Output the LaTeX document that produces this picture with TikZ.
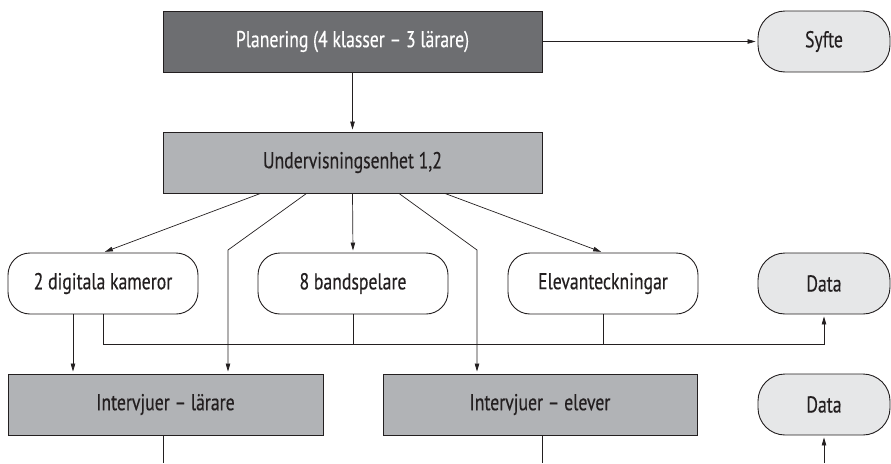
\documentclass[tikz,border=0pt]{standalone}
\usepackage{fontspec}
\setmainfont{PT Sans}[FakeStretch=0.77,FakeBold=0.35]
\usetikzlibrary{arrows.meta,calc}
\definecolor{ink}{HTML}{231F20}
\definecolor{darkfill}{HTML}{6D6E71}
\definecolor{midfill}{HTML}{B1B3B6}
\definecolor{lightfill}{HTML}{E6E7E8}
\begin{document}
\begin{tikzpicture}[x=1pt,y=-1pt,
  font=\fontsize{23}{26}\selectfont,
  basebox/.style={draw=ink, line width=0.9pt, minimum height=61pt, inner sep=0pt, text=ink},
  darkbox/.style={basebox, fill=darkfill, text=white, minimum width=379pt},
  midbox/.style={basebox, fill=midfill},
  roundbox/.style={basebox, fill=white, rounded corners=22pt, minimum width=190pt},
  databox/.style={basebox, fill=lightfill, rounded corners=27pt, minimum width=132pt},
  conn/.style={draw=ink, line width=0.7pt},
  arr/.style={conn, -{Triangle[length=8pt,width=4.5pt]}, shorten >=2pt}]
\useasboundingbox (0,0) rectangle (891,463);
% nodes
\node[darkbox] (plan) at (352.5,41.5) {Planering (4 klasser – 3 lärare)};
\node[databox] (syfte) at (824,41.5) {Syfte};
\node[midbox, minimum width=379pt] (und) at (352.5,162.5) {Undervisningsenhet 1,2};
\node[roundbox] (kam) at (103,283.5) {2 digitala kameror};
\node[roundbox] (band) at (353,283.5) {8 bandspelare};
\node[roundbox] (elev) at (603,283.5) {Elevanteckningar};
\node[databox] (data1) at (824,283.5) {Data};
\node[midbox, minimum width=315pt] (intl) at (165.5,404.5) {Intervjuer – lärare};
\node[midbox, minimum width=314pt] (inte) at (540,404.5) {Intervjuer – elever};
\node[databox] (data2) at (824,404.5) {Data};
% helper coordinates
\coordinate (bendl) at (228,250);
\coordinate (bendr) at (477,250);
\coordinate (bus) at (0,344);
\coordinate (endl) at (163,463);
\coordinate (ende) at (542,463);
\coordinate (endd) at (824,463);
% connectors
\draw[arr] (plan.east) -- (syfte.west);
\draw[arr] (plan.south) -- (und.north);
\draw[arr] ($(und.south)+(-92,0)$) -- (kam.north);
\draw[arr] ($(und.south)+(-46,0)$) -- (bendl) -- (intl.north -| bendl);
\draw[arr] (und.south) -- (band.north);
\draw[arr] ($(und.south)+(46.5,0)$) -- (bendr) -- (inte.north -| bendr);
\draw[arr] ($(und.south)+(92.5,0)$) -- (elev.north);
\draw[arr] ($(kam.south)+(-30,0)$) -- ($(intl.north)+(-92.5,0)$);
\draw[arr] (kam.south) -- (kam.south |- bus) -- (data1.south |- bus) -- (data1.south);
\draw[conn] (band.south) -- (band.south |- bus);
\draw[conn] (elev.south) -- (elev.south |- bus);
\draw[conn] (intl.south -| endl) -- (endl);
\draw[conn] (inte.south -| ende) -- (ende);
\draw[arr] (endd) -- (data2.south);
\end{tikzpicture}
\end{document}
